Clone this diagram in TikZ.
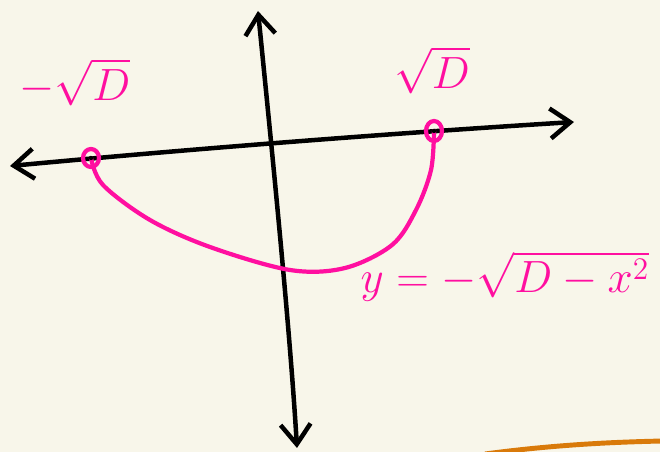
\documentclass[tikz,border=0pt]{standalone}
\usepackage{amsmath,amssymb}
\usepackage{tikz}
\usetikzlibrary{arrows.meta,positioning,calc}
\usepackage{xcolor}
\definecolor{paper}{HTML}{F8F6EA}
\definecolor{ink}{HTML}{FF0FA0}
\definecolor{marker}{HTML}{D97A0A}
\tikzset{
  axis/.style={line width=3.2pt,line cap=round,{Straight Barb[length=0.5cm,width=0.75cm]}-{Straight Barb[length=0.5cm,width=0.75cm]}},
  pen/.style={ink,line width=3pt,line cap=round,line join=round},
  hand/.style={ink,font=\huge,scale=1.55,transform shape},
}

\begin{document}
\begin{tikzpicture}[x=0.025cm,y=-0.025cm]
\fill[paper] (0,0) rectangle (660,452);
\useasboundingbox (0,0) rectangle (660,452);
% axes
\coordinate (L) at (10,166); \coordinate (R) at (574,122);
\coordinate (T) at (258,11); \coordinate (B) at (297,448);
\draw[axis] (L) .. controls (180,150) and (380,134) .. (R);
\draw[axis] (T) .. controls (272,150) and (290,330) .. (B);
% roots
\coordinate (P) at (91,158); \coordinate (Q) at (434,131);
\draw[pen] (P) plot[smooth,tension=0.55] coordinates {(91,158) (103,185) (150,220) (210,247) (290,270) (345,268) (392,245) (416,210) (431,170) (434,131)};
\draw[pen] (P) ellipse (8 and 9); \fill (P) circle (2.2);
\draw[pen] (Q) ellipse (8 and 10); \fill (Q) circle (2.2);
\node[hand] (negroot) at (75,82) {$-\sqrt{D}$};
\node[hand] (posroot) at (432,70) {$\sqrt{D}$};
\node[hand] (curve) at (505,276) {$y=-\sqrt{D-x^2}$};
% stray stroke
\draw[marker,line width=3.5pt] (485,454) .. controls (560,444) and (620,442) .. (662,441);
\end{tikzpicture}
\end{document}
